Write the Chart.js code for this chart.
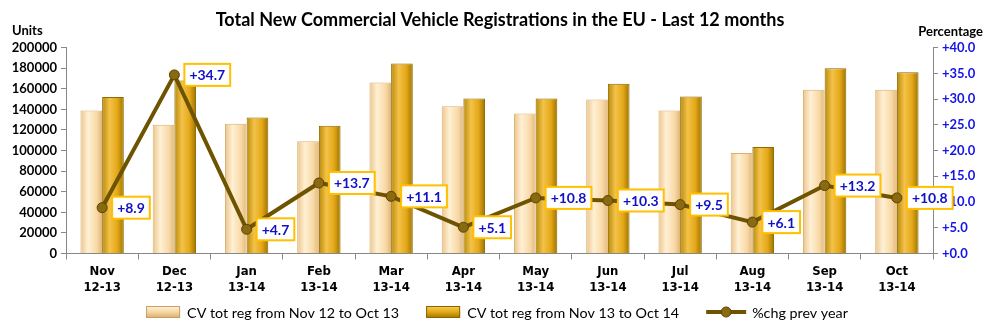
<!DOCTYPE html>
<html>
<head>
<meta charset="utf-8">
<script src="https://cdn.jsdelivr.net/npm/chart.js@4.4.1/dist/chart.umd.min.js"></script>
<style>
    html, body { margin: 0; padding: 0; background: #fff; }
    #wrap { width: 1000px; height: 332px; }
</style>
</head>
<body>
<div id="wrap"><canvas id="chart"></canvas></div>
<script>
const months = ["Nov", "Dec", "Jan", "Feb", "Mar", "Apr", "May", "Jun", "Jul", "Aug", "Sep", "Oct"];
const periods = ["12-13", "12-13", "13-14", "13-14", "13-14", "13-14", "13-14", "13-14", "13-14", "13-14", "13-14", "13-14"];
const regPrev = [139000, 125000, 126000, 109000, 166000, 143000, 136000, 149500, 139000, 97500, 159000, 159000];
const regCurr = [152000, 168000, 132000, 124000, 184500, 150500, 150500, 165000, 152400, 103500, 180000, 176000];
const pctChg = [8.9, 34.7, 4.7, 13.7, 11.1, 5.1, 10.8, 10.3, 9.5, 6.1, 13.2, 10.8];

const fontMain = "Lato, 'Open Sans', sans-serif";
const fontNarrow = "'Liberation Sans Narrow', 'DejaVu Sans Condensed', Lato, sans-serif";

// cylinder-like horizontal gradient for each bar
function barGradient(context, stops, fallback) {
    const chart = context.chart;
    const xs = chart.scales.x;
    if (!chart.chartArea || !xs) return fallback;
    const center = xs.getPixelForValue(context.dataIndex);
    const w = (xs.width / months.length) * 0.6 / 2;
    const left = context.datasetIndex == 0 ? center - w : center;
    const g = chart.ctx.createLinearGradient(left, 0, left + w, 0);
    stops.forEach(s => g.addColorStop(s[0], s[1]));
    return g;
}
const lightStops = [[0, "#EBC48C"], [0.35, "#FFF0D4"], [0.75, "#F8D9A6"], [1, "#E3B676"]];
const darkStops = [[0, "#B88A08"], [0.35, "#F4C24A"], [0.7, "#E4A818"], [1, "#9E7400"]];

function drawSwatch(ctx, kind, x, y) {
    if (kind == "line") {
        ctx.strokeStyle = "#6E5300"; ctx.lineWidth = 4;
        ctx.beginPath(); ctx.moveTo(x, y); ctx.lineTo(x + 40, y); ctx.stroke();
        ctx.fillStyle = "#8A6A10";
        ctx.beginPath(); ctx.arc(x + 20, y, 5, 0, Math.PI * 2); ctx.fill();
        ctx.strokeStyle = "#5A4300"; ctx.lineWidth = 1; ctx.stroke();
        return 40;
    }
    const stops = kind == "light" ? [[0, "#FFF3DC"], [0.5, "#F6D7A2"], [1, "#D8AC6A"]] : [[0, "#F8D058"], [0.5, "#E2A816"], [1, "#9E7400"]];
    const g = ctx.createLinearGradient(0, y - 6, 0, y + 6);
    stops.forEach(s => g.addColorStop(s[0], s[1]));
    ctx.fillStyle = g;
    ctx.fillRect(x, y - 6, 34, 12);
    ctx.strokeStyle = kind == "light" ? "#C8A066" : "#8A6400"; ctx.lineWidth = 1;
    ctx.strokeRect(x + 0.5, y - 5.5, 33, 11);
    return 35;
}
const legendKinds = ["light", "dark", "line"];

const legendAndText = {
    id: "legendAndText",
    afterDraw(chart) {
        const ctx = chart.ctx;
        const a = chart.chartArea;
        ctx.save();
        ctx.font = "bold 13px " + fontMain;
        ctx.fillStyle = "#000";
        ctx.textBaseline = "middle";
        ctx.textAlign = "left";
        ctx.fillText("Units", a.left - 54, a.top - 17);
        ctx.textAlign = "right";
        ctx.fillText("Percentage", a.right + 50, a.top - 16);

        // legend row
        ctx.font = "14.3px " + fontMain;
        ctx.textAlign = "left";
        const items = chart.data.datasets.map((ds, i) => ({
            kind: legendKinds[i], text: ds.label,
            w: (legendKinds[i] == "line" ? 40 : 35) + 6 + ctx.measureText(ds.label).width
        }));
        const gap = 27;
        const total = items.reduce((s, it) => s + it.w, 0) + gap * (items.length - 1);
        let x = (chart.width - total) / 2 - 3;
        const y = chart.height - 20;
        items.forEach(it => {
            const sw = drawSwatch(ctx, it.kind, x, y);
            ctx.fillStyle = "#000";
            ctx.fillText(it.text, x + sw + 6, y + 1);
            x += it.w + gap;
        });
        ctx.restore();
    }
};

const pointLabels = {
    id: "pointLabels",
    afterDatasetsDraw(chart) {
        const ctx = chart.ctx;
        const meta = chart.getDatasetMeta(2);
        ctx.save();
        ctx.font = "bold 14px " + fontMain;
        ctx.textBaseline = "middle";
        ctx.textAlign = "left";
        meta.data.forEach((pt, i) => {
            const txt = "+" + pctChg[i].toFixed(1);
            const tw = ctx.measureText(txt).width;
            const bx = pt.x + 10, by = pt.y - 11, bw = tw + 10, bh = 22;
            ctx.fillStyle = "#fff";
            ctx.fillRect(bx, by, bw, bh);
            ctx.strokeStyle = "#FFC000";
            ctx.lineWidth = 2;
            ctx.strokeRect(bx, by, bw, bh);
            ctx.fillStyle = "#1010C8";
            ctx.fillText(txt, bx + 5, pt.y + 1);
        });
        ctx.restore();
    }
};

new Chart(document.getElementById("chart"), {
    type: "bar",
    data: {
        labels: months.map((m, i) => [m, periods[i]]),
        datasets: [
            {
                label: "CV tot reg from Nov 12 to Oct 13",
                data: regPrev,
                backgroundColor: c => barGradient(c, lightStops, "#F8D9A6"),
                borderColor: "#D9B070",
                borderWidth: 1,
                categoryPercentage: 0.6,
                barPercentage: 1.0,
                yAxisID: "y",
                order: 2
            },
            {
                label: "CV tot reg from Nov 13 to Oct 14",
                data: regCurr,
                backgroundColor: c => barGradient(c, darkStops, "#E4A818"),
                borderColor: "#8E6800",
                borderWidth: 1,
                categoryPercentage: 0.6,
                barPercentage: 1.0,
                yAxisID: "y",
                order: 2
            },
            {
                type: "line",
                label: "%chg prev year",
                data: pctChg,
                yAxisID: "y1",
                borderColor: "#6E5300",
                borderWidth: 4,
                pointRadius: 5,
                pointBackgroundColor: "#8A6A10",
                pointBorderColor: "#5A4300",
                pointBorderWidth: 1,
                tension: 0,
                order: 1
            }
        ]
    },
    options: {
        responsive: true,
        maintainAspectRatio: false,
        animation: false,
        layout: { padding: { top: 0, bottom: 32, left: 0, right: 0 } },
        plugins: {
            title: {
                display: true,
                text: "Total New Commercial Vehicle Registrations in the EU - Last 12 months",
                color: "#000",
                font: { family: fontMain, size: 18, weight: "bold" },
                padding: { top: 9, bottom: 17 }
            },
            legend: { display: false },
            tooltip: { enabled: false }
        },
        scales: {
            x: {
                grid: { drawOnChartArea: false, offset: true, tickLength: 6, color: "#888" },
                border: { color: "#888" },
                ticks: {
                    color: "#000",
                    font: { family: fontNarrow, size: 13, weight: "bold", lineHeight: 1.25 },
                    padding: 4,
                    maxRotation: 0
                }
            },
            y: {
                position: "left",
                min: 0,
                max: 200000,
                ticks: {
                    stepSize: 20000,
                    color: "#000",
                    font: { family: fontMain, size: 13, weight: "bold" },
                    padding: 4,
                    callback: v => String(v)
                },
                grid: { drawOnChartArea: false, tickLength: 5, color: "#888" },
                border: { color: "#888" },
                afterFit(scale) { scale.width = 66; }
            },
            y1: {
                position: "right",
                min: 0,
                max: 40,
                ticks: {
                    stepSize: 5,
                    color: "#1414E6",
                    font: { family: fontMain, size: 13, weight: "bold" },
                    padding: 4,
                    callback: v => "+" + Number(v).toFixed(1)
                },
                grid: { drawOnChartArea: false, tickLength: 5, color: "#888" },
                border: { color: "#888" },
                afterFit(scale) { scale.width = 67; }
            }
        }
    },
    plugins: [legendAndText, pointLabels]
});
</script>
</body>
</html>
